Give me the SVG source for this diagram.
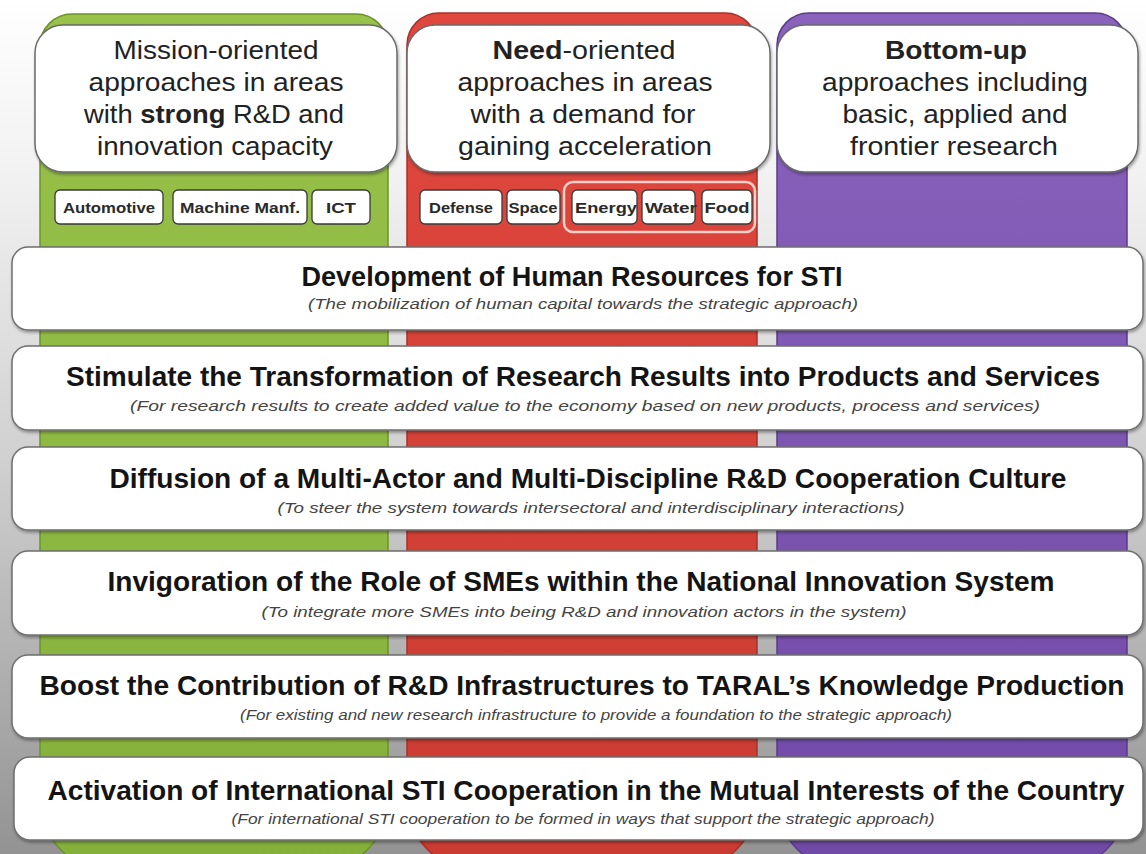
<svg xmlns="http://www.w3.org/2000/svg" width="1146" height="854" viewBox="0 0 1146 854">
<defs>
  <linearGradient id="bg" x1="0" y1="0" x2="0" y2="1">
    <stop offset="0" stop-color="#ffffff"/>
    <stop offset="0.2" stop-color="#f2f2f2"/>
    <stop offset="0.55" stop-color="#cfcfcf"/>
    <stop offset="1" stop-color="#939393"/>
  </linearGradient>
  <linearGradient id="gGreen" x1="0" y1="0" x2="0" y2="1">
    <stop offset="0" stop-color="#98c24a"/>
    <stop offset="1" stop-color="#84b03a"/>
  </linearGradient>
  <linearGradient id="gRed" x1="0" y1="0" x2="0" y2="1">
    <stop offset="0" stop-color="#e0483e"/>
    <stop offset="1" stop-color="#c93b30"/>
  </linearGradient>
  <linearGradient id="gPurple" x1="0" y1="0" x2="0" y2="1">
    <stop offset="0" stop-color="#8a63bd"/>
    <stop offset="1" stop-color="#7049a6"/>
  </linearGradient>
  <filter id="sh" x="-5%" y="-20%" width="110%" height="150%">
    <feDropShadow dx="1" dy="2" stdDeviation="1.5" flood-color="#000" flood-opacity="0.35"/>
  </filter>
  <style>
    text { font-family: "Liberation Sans", Arial, sans-serif; }
    .hdr { font-size: 25px; fill: #222; text-anchor: middle; }
    .b { font-weight: bold; }
    .topbox { fill: #ffffff; stroke: #6a6a6a; stroke-width: 1.5; }
    .tag { fill: #ffffff; stroke: #3a3a3a; stroke-width: 1.3; }
    .tagt { font-size: 15px; font-weight: bold; fill: #2a2a2a; text-anchor: middle; }
    .bar { fill: #ffffff; stroke: #6f6f6f; stroke-width: 1.5; }
    .ttl { font-size: 27px; font-weight: bold; fill: #141414; text-anchor: middle; }
    .sub { font-size: 15px; font-style: italic; fill: #444; text-anchor: middle; }
  </style>
</defs>

<rect x="0" y="0" width="1146" height="854" fill="url(#bg)"/>

<g id="col-green">
  <path d="M72 14 H356 A32 32 0 0 1 388 46 V800 A70 70 0 0 1 318 870 H110 A70 70 0 0 1 40 800 V46 A32 32 0 0 1 72 14 Z" fill="url(#gGreen)" stroke="#6c9229" stroke-width="1.5"/>
</g>
<g id="col-red">
  <path d="M439 13 H725 A32 32 0 0 1 757 45 V800 A70 70 0 0 1 687 870 H477 A70 70 0 0 1 407 800 V45 A32 32 0 0 1 439 13 Z" fill="url(#gRed)" stroke="#a9302a" stroke-width="1.5"/>
</g>
<g id="col-purple">
  <path d="M809 13 H1095 A32 32 0 0 1 1127 45 V800 A70 70 0 0 1 1057 870 H847 A70 70 0 0 1 777 800 V45 A32 32 0 0 1 809 13 Z" fill="url(#gPurple)" stroke="#5b3b8c" stroke-width="1.5"/>
</g>

<g id="box-mission">
  <rect class="topbox" x="35" y="25" width="362" height="147" rx="28" filter="url(#sh)"/>
  <text class="hdr" x="216" y="59" textLength="205" lengthAdjust="spacingAndGlyphs">Mission-oriented</text>
  <text class="hdr" x="216" y="91" textLength="255" lengthAdjust="spacingAndGlyphs">approaches in areas</text>
  <text class="hdr" x="214" y="123" textLength="260" lengthAdjust="spacingAndGlyphs">with <tspan class="b">strong</tspan> R&amp;D and</text>
  <text class="hdr" x="215" y="155" textLength="236" lengthAdjust="spacingAndGlyphs">innovation capacity</text>
</g>
<g id="box-need">
  <rect class="topbox" x="407" y="25" width="363" height="147" rx="28" filter="url(#sh)"/>
  <text class="hdr" x="584" y="59" textLength="183" lengthAdjust="spacingAndGlyphs"><tspan class="b">Need</tspan>-oriented</text>
  <text class="hdr" x="585" y="91" textLength="255" lengthAdjust="spacingAndGlyphs">approaches in areas</text>
  <text class="hdr" x="583" y="123" textLength="225" lengthAdjust="spacingAndGlyphs">with a demand for</text>
  <text class="hdr" x="585" y="155" textLength="254" lengthAdjust="spacingAndGlyphs">gaining acceleration</text>
</g>
<g id="box-bottomup">
  <rect class="topbox" x="777" y="25" width="361" height="147" rx="28" filter="url(#sh)"/>
  <text class="hdr b" x="956" y="59" textLength="142" lengthAdjust="spacingAndGlyphs">Bottom-up</text>
  <text class="hdr" x="955" y="91" textLength="266" lengthAdjust="spacingAndGlyphs">approaches including</text>
  <text class="hdr" x="955" y="123" textLength="225" lengthAdjust="spacingAndGlyphs">basic, applied and</text>
  <text class="hdr" x="954" y="155" textLength="208" lengthAdjust="spacingAndGlyphs">frontier research</text>
</g>

<g id="tag-automotive">
  <rect class="tag" x="55" y="190" width="108" height="34" rx="5"/>
  <text class="tagt" x="109" y="213" textLength="92" lengthAdjust="spacingAndGlyphs">Automotive</text>
</g>
<g id="tag-machine">
  <rect class="tag" x="173" y="190" width="134" height="34" rx="5"/>
  <text class="tagt" x="240" y="213" textLength="120" lengthAdjust="spacingAndGlyphs">Machine Manf.</text>
</g>
<g id="tag-ict">
  <rect class="tag" x="312" y="190" width="58" height="34" rx="5"/>
  <text class="tagt" x="341" y="213" textLength="30" lengthAdjust="spacingAndGlyphs">ICT</text>
</g>
<g id="tag-defense">
  <rect class="tag" x="420" y="190" width="82" height="34" rx="5"/>
  <text class="tagt" x="461" y="213" textLength="64" lengthAdjust="spacingAndGlyphs">Defense</text>
</g>
<g id="tag-space">
  <rect class="tag" x="507" y="190" width="53" height="34" rx="5"/>
  <text class="tagt" x="533" y="213" textLength="49" lengthAdjust="spacingAndGlyphs">Space</text>
</g>
<g id="tag-group">
  <rect x="564" y="182" width="191" height="50" rx="9" fill="none" stroke="#f6cfc9" stroke-width="2.5"/>
</g>
<g id="tag-energy">
  <rect class="tag" x="572" y="190" width="65" height="34" rx="5"/>
  <text class="tagt" x="606" y="213" textLength="62" lengthAdjust="spacingAndGlyphs">Energy</text>
</g>
<g id="tag-water">
  <rect class="tag" x="642" y="190" width="53" height="34" rx="5"/>
  <text class="tagt" x="671" y="213" textLength="52" lengthAdjust="spacingAndGlyphs">Water</text>
</g>
<g id="tag-food">
  <rect class="tag" x="702" y="190" width="50" height="34" rx="5"/>
  <text class="tagt" x="727" y="213" textLength="45" lengthAdjust="spacingAndGlyphs">Food</text>
</g>

<g id="bar-1">
  <rect class="bar" x="12" y="247" width="1131" height="83" rx="16" filter="url(#sh)"/>
  <text class="ttl" x="572" y="286" textLength="541" lengthAdjust="spacingAndGlyphs">Development of Human Resources for STI</text>
  <text class="sub" x="583" y="309" textLength="550" lengthAdjust="spacingAndGlyphs">(The mobilization of human capital towards the strategic approach)</text>
</g>
<g id="bar-2">
  <rect class="bar" x="12" y="346" width="1131" height="84" rx="16" filter="url(#sh)"/>
  <text class="ttl" x="583" y="386" textLength="1034" lengthAdjust="spacingAndGlyphs">Stimulate the Transformation of Research Results into Products and Services</text>
  <text class="sub" x="585" y="411" textLength="910" lengthAdjust="spacingAndGlyphs">(For research results to create added value to the economy based on new products, process and services)</text>
</g>
<g id="bar-3">
  <rect class="bar" x="12" y="447" width="1131" height="83" rx="16" filter="url(#sh)"/>
  <text class="ttl" x="588" y="488" textLength="957" lengthAdjust="spacingAndGlyphs">Diffusion of a Multi-Actor and Multi-Discipline R&amp;D Cooperation Culture</text>
  <text class="sub" x="591" y="513" textLength="627" lengthAdjust="spacingAndGlyphs">(To steer the system towards intersectoral and interdisciplinary interactions)</text>
</g>
<g id="bar-4">
  <rect class="bar" x="12" y="551" width="1131" height="84" rx="16" filter="url(#sh)"/>
  <text class="ttl" x="581" y="591" textLength="947" lengthAdjust="spacingAndGlyphs">Invigoration of the Role of SMEs within the National Innovation System</text>
  <text class="sub" x="584" y="617" textLength="645" lengthAdjust="spacingAndGlyphs">(To integrate more SMEs into being R&amp;D and innovation actors in the system)</text>
</g>
<g id="bar-5">
  <rect class="bar" x="12" y="655" width="1131" height="83" rx="16" filter="url(#sh)"/>
  <text class="ttl" x="582" y="695" textLength="1085" lengthAdjust="spacingAndGlyphs">Boost the Contribution of R&amp;D Infrastructures to TARAL’s Knowledge Production</text>
  <text class="sub" x="596" y="720" textLength="712" lengthAdjust="spacingAndGlyphs">(For existing and new research infrastructure to provide a foundation to the strategic approach)</text>
</g>
<g id="bar-6">
  <rect class="bar" x="14" y="757" width="1129" height="83" rx="16" filter="url(#sh)"/>
  <text class="ttl" x="586" y="800" textLength="1077" lengthAdjust="spacingAndGlyphs">Activation of International STI Cooperation in the Mutual Interests of the Country</text>
  <text class="sub" x="583" y="824" textLength="703" lengthAdjust="spacingAndGlyphs">(For international STI cooperation to be formed in ways that support the strategic approach)</text>
</g>

<g id="connectors"></g>
</svg>
